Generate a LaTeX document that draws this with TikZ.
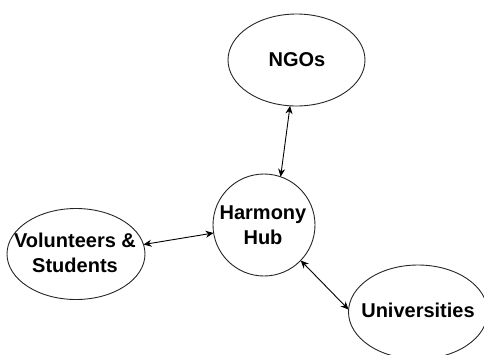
\documentclass[tikz,border=0pt]{standalone}
\usepackage{fontspec}
\setmainfont{Liberation Sans}
\usetikzlibrary{shapes.geometric,arrows.meta}
\begin{document}
\begin{tikzpicture}[x=1pt,y=-1pt,
  shapeline/.style={draw=black!85, line width=0.9pt, inner sep=0pt, outer sep=0pt},
  oval/.style={shapeline, ellipse},
  roundnode/.style={shapeline, circle},
  lbl/.style={font=\fontsize{20}{25}\selectfont\bfseries, align=center, inner sep=0pt},
  link/.style={line width=0.9pt, {Stealth[length=8pt,width=7pt]}-{Stealth[length=8pt,width=7pt]}}]
\useasboundingbox (0,0) rectangle (484,354);
\node[oval, minimum width=137pt, minimum height=92pt] (ngo) at (296.5,60) {};
\node[roundnode, minimum size=102pt] (hub) at (264,225) {};
\node[oval, minimum width=138pt, minimum height=91pt] (vol) at (76,254) {};
\node[oval, minimum width=139pt, minimum height=94pt] (uni) at (418,312) {};
\node[lbl] (ngot) at (297,60) {NGOs};
\node[lbl] (hubt) at (263,225) {Harmony\\Hub};
\node[lbl] (volt) at (75,253) {Volunteers \&\\Students};
\node[lbl] (unit) at (418,310) {Universities};
\draw[link] (hub.71) -- (ngo.262);
\draw[link] (vol.8) -- (hub.189);
\draw[link] (hub.316) -- (uni.178);
\end{tikzpicture}
\end{document}
